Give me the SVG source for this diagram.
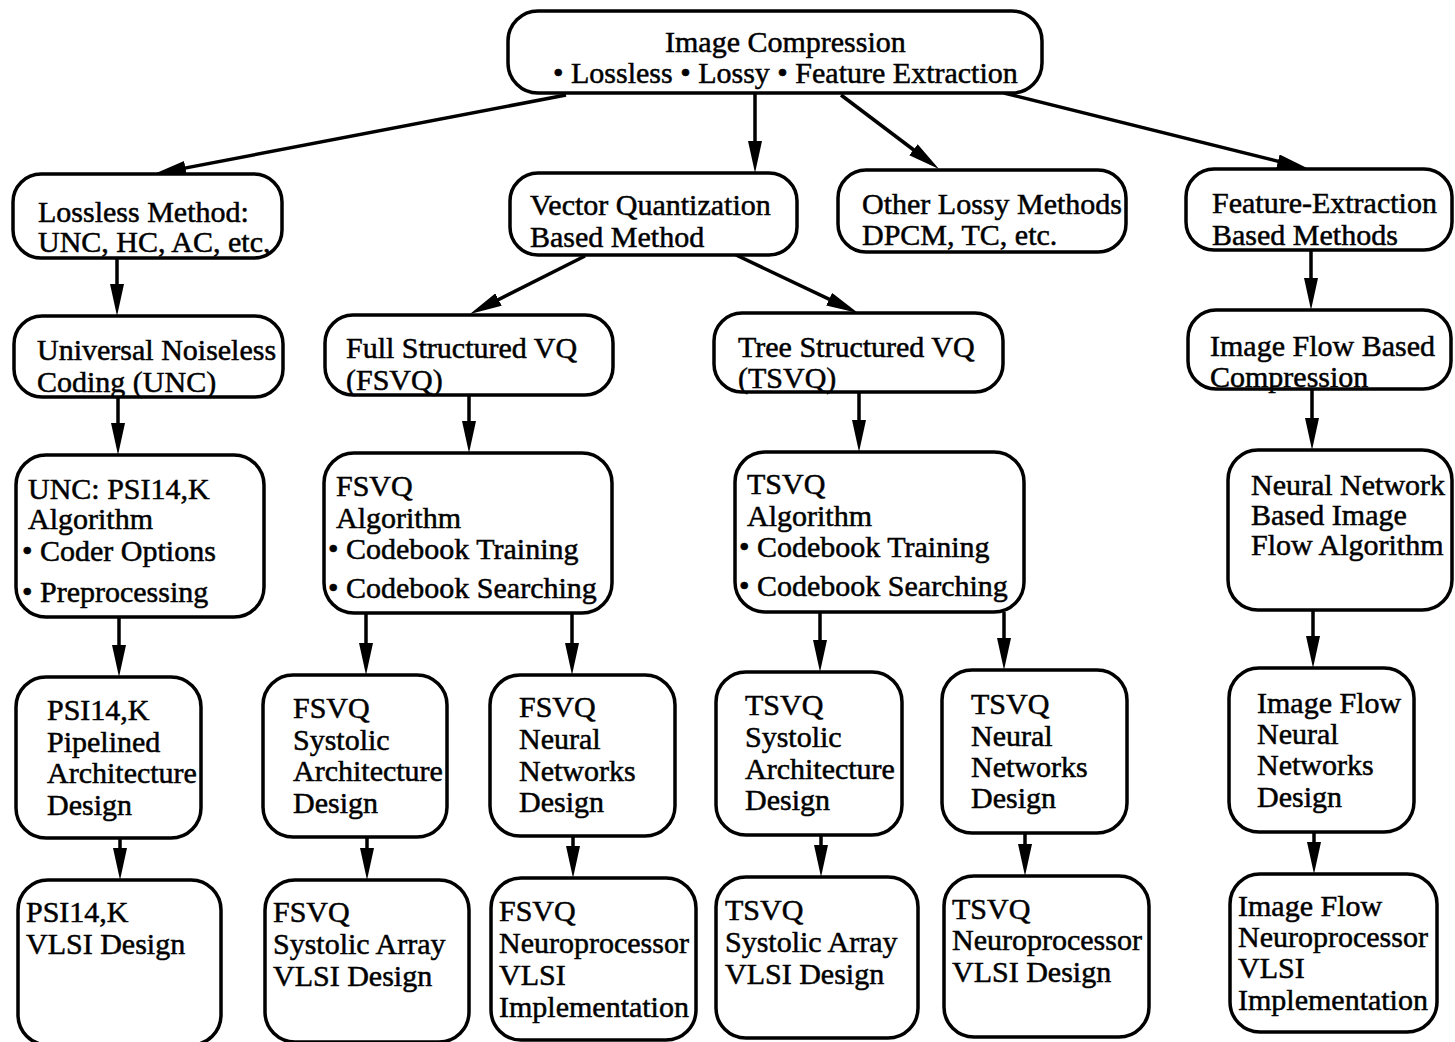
<svg xmlns="http://www.w3.org/2000/svg" width="1455" height="1042" viewBox="0 0 1455 1042">
<style>
.box{fill:#fff;stroke:#000;stroke-width:3.5}
.t{font-family:"Liberation Serif","Times New Roman",serif;font-size:30px;fill:#000;stroke:#000;stroke-width:0.5}
.c{stroke:#000;stroke-width:3.5;fill:none;marker-end:url(#ah)}
</style>
<defs>
<marker id="ah" markerUnits="userSpaceOnUse" markerWidth="32" markerHeight="14" viewBox="0 0 32 14" refX="22" refY="7" orient="auto">
<path d="M0,0 L32,7 L0,14 z" fill="#000"/>
</marker>
</defs>
<rect width="1455" height="1042" fill="#fff"/>
<g id="connectors">
<line class="c" x1="566" y1="95" x2="163.8" y2="172.1"/>
<line class="c" x1="755" y1="93" x2="755" y2="163"/>
<line class="c" x1="841" y1="95" x2="931" y2="163"/>
<line class="c" x1="1004" y1="93" x2="1299.3" y2="166.6"/>
<line class="c" x1="117" y1="258" x2="117" y2="306"/>
<line class="c" x1="585" y1="256" x2="478.9" y2="309.5"/>
<line class="c" x1="736" y1="255" x2="849" y2="308.7"/>
<line class="c" x1="1311" y1="250" x2="1311" y2="300"/>
<line class="c" x1="118" y1="397" x2="118" y2="445"/>
<line class="c" x1="469" y1="395" x2="469" y2="443"/>
<line class="c" x1="859" y1="392" x2="859" y2="442"/>
<line class="c" x1="1312" y1="389" x2="1312" y2="440"/>
<line class="c" x1="119" y1="617" x2="119" y2="667"/>
<line class="c" x1="366" y1="613" x2="366" y2="665"/>
<line class="c" x1="572" y1="613" x2="572" y2="665"/>
<line class="c" x1="820" y1="612" x2="820" y2="662"/>
<line class="c" x1="1004" y1="612" x2="1004" y2="660"/>
<line class="c" x1="1313" y1="610" x2="1313" y2="658"/>
<line class="c" x1="120" y1="838" x2="120" y2="870"/>
<line class="c" x1="367" y1="837" x2="367" y2="870"/>
<line class="c" x1="573" y1="836" x2="573" y2="868"/>
<line class="c" x1="821" y1="835" x2="821" y2="867"/>
<line class="c" x1="1025" y1="833" x2="1025" y2="866"/>
<line class="c" x1="1314" y1="832" x2="1314" y2="864"/>
</g>
<g id="n-top"><rect class="box" x="508" y="11" width="534" height="82" rx="30"/>
<text class="t" x="665" y="52">Image Compression</text>
<text class="t" x="553" y="83">• Lossless • Lossy • Feature Extraction</text></g>
<g id="n-lossless"><rect class="box" x="13" y="174" width="269" height="84" rx="28"/>
<text class="t" x="38" y="222">Lossless Method:</text>
<text class="t" x="38" y="252">UNC, HC, AC, etc,</text></g>
<g id="n-vq"><rect class="box" x="510" y="173" width="287" height="82" rx="28"/>
<text class="t" x="530" y="215">Vector Quantization</text>
<text class="t" x="530" y="247">Based Method</text></g>
<g id="n-other"><rect class="box" x="838" y="170" width="288" height="82" rx="28"/>
<text class="t" x="862" y="214">Other Lossy Methods</text>
<text class="t" x="862" y="245">DPCM, TC, etc.</text></g>
<g id="n-feat"><rect class="box" x="1186" y="169" width="266" height="81" rx="28"/>
<text class="t" x="1212" y="213">Feature-Extraction</text>
<text class="t" x="1212" y="245">Based Methods</text></g>
<g id="n-unc"><rect class="box" x="14" y="316" width="269" height="81" rx="28"/>
<text class="t" x="37" y="360">Universal Noiseless</text>
<text class="t" x="37" y="392">Coding (UNC)</text></g>
<g id="n-fsvq"><rect class="box" x="325" y="315" width="288" height="80" rx="28"/>
<text class="t" x="346" y="358">Full Structured VQ</text>
<text class="t" x="346" y="390">(FSVQ)</text></g>
<g id="n-tsvq"><rect class="box" x="714" y="313" width="289" height="79" rx="28"/>
<text class="t" x="738" y="357">Tree Structured VQ</text>
<text class="t" x="738" y="388">(TSVQ)</text></g>
<g id="n-iflow"><rect class="box" x="1188" y="310" width="263" height="79" rx="28"/>
<text class="t" x="1210" y="356">Image Flow Based</text>
<text class="t" x="1210" y="387">Compression</text></g>
<g id="n-uncalg"><rect class="box" x="16" y="455" width="248" height="162" rx="30"/>
<text class="t" x="28" y="499">UNC: PSI14,K</text>
<text class="t" x="28" y="529">Algorithm</text>
<text class="t" x="22" y="561">• Coder Options</text>
<text class="t" x="22" y="602">• Preprocessing</text></g>
<g id="n-fsvqalg"><rect class="box" x="324" y="453" width="288" height="160" rx="30"/>
<text class="t" x="336" y="496">FSVQ</text>
<text class="t" x="336" y="528">Algorithm</text>
<text class="t" x="328" y="559">• Codebook Training</text>
<text class="t" x="328" y="598">• Codebook Searching</text></g>
<g id="n-tsvqalg"><rect class="box" x="735" y="452" width="289" height="160" rx="30"/>
<text class="t" x="747" y="494">TSVQ</text>
<text class="t" x="747" y="526">Algorithm</text>
<text class="t" x="739" y="557">• Codebook Training</text>
<text class="t" x="739" y="596">• Codebook Searching</text></g>
<g id="n-nnalg"><rect class="box" x="1228" y="450" width="224" height="160" rx="30"/>
<text class="t" x="1251" y="495">Neural Network</text>
<text class="t" x="1251" y="525">Based Image</text>
<text class="t" x="1251" y="555">Flow Algorithm</text></g>
<g id="n-psipipe"><rect class="box" x="16" y="677" width="185" height="161" rx="30"/>
<text class="t" x="47" y="720">PSI14,K</text>
<text class="t" x="47" y="752">Pipelined</text>
<text class="t" x="47" y="783">Architecture</text>
<text class="t" x="47" y="815">Design</text></g>
<g id="n-fsvqsys"><rect class="box" x="263" y="675" width="184" height="162" rx="30"/>
<text class="t" x="293" y="718">FSVQ</text>
<text class="t" x="293" y="750">Systolic</text>
<text class="t" x="293" y="781">Architecture</text>
<text class="t" x="293" y="813">Design</text></g>
<g id="n-fsvqnn"><rect class="box" x="490" y="675" width="185" height="161" rx="30"/>
<text class="t" x="519" y="717">FSVQ</text>
<text class="t" x="519" y="749">Neural</text>
<text class="t" x="519" y="781">Networks</text>
<text class="t" x="519" y="812">Design</text></g>
<g id="n-tsvqsys"><rect class="box" x="716" y="672" width="186" height="163" rx="30"/>
<text class="t" x="745" y="715">TSVQ</text>
<text class="t" x="745" y="747">Systolic</text>
<text class="t" x="745" y="779">Architecture</text>
<text class="t" x="745" y="810">Design</text></g>
<g id="n-tsvqnn"><rect class="box" x="942" y="670" width="185" height="163" rx="30"/>
<text class="t" x="971" y="714">TSVQ</text>
<text class="t" x="971" y="746">Neural</text>
<text class="t" x="971" y="777">Networks</text>
<text class="t" x="971" y="808">Design</text></g>
<g id="n-ifnn"><rect class="box" x="1229" y="668" width="185" height="164" rx="30"/>
<text class="t" x="1257" y="713">Image Flow</text>
<text class="t" x="1257" y="744">Neural</text>
<text class="t" x="1257" y="775">Networks</text>
<text class="t" x="1257" y="807">Design</text></g>
<g id="n-psivlsi"><rect class="box" x="18" y="880" width="203" height="165" rx="30"/>
<text class="t" x="26" y="922">PSI14,K</text>
<text class="t" x="26" y="954">VLSI Design</text></g>
<g id="n-fsvqvlsi"><rect class="box" x="265" y="880" width="204" height="162" rx="30"/>
<text class="t" x="273" y="922">FSVQ</text>
<text class="t" x="273" y="954">Systolic Array</text>
<text class="t" x="273" y="986">VLSI Design</text></g>
<g id="n-fsvqneuro"><rect class="box" x="491" y="878" width="205" height="162" rx="30"/>
<text class="t" x="499" y="921">FSVQ</text>
<text class="t" x="499" y="953">Neuroprocessor</text>
<text class="t" x="499" y="985">VLSI</text>
<text class="t" x="499" y="1017">Implementation</text></g>
<g id="n-tsvqvlsi"><rect class="box" x="716" y="877" width="202" height="161" rx="30"/>
<text class="t" x="725" y="920">TSVQ</text>
<text class="t" x="725" y="952">Systolic Array</text>
<text class="t" x="725" y="984">VLSI Design</text></g>
<g id="n-tsvqneuro"><rect class="box" x="944" y="876" width="205" height="161" rx="30"/>
<text class="t" x="952" y="919">TSVQ</text>
<text class="t" x="952" y="950">Neuroprocessor</text>
<text class="t" x="952" y="982">VLSI Design</text></g>
<g id="n-ifvlsi"><rect class="box" x="1230" y="874" width="207" height="158" rx="30"/>
<text class="t" x="1238" y="916">Image Flow</text>
<text class="t" x="1238" y="947">Neuroprocessor</text>
<text class="t" x="1238" y="978">VLSI</text>
<text class="t" x="1238" y="1010">Implementation</text></g>
</svg>
